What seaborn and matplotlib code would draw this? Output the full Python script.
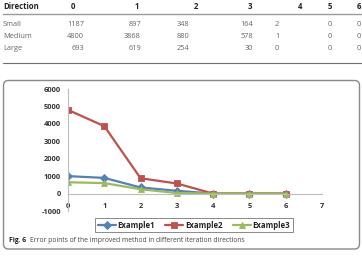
import matplotlib
matplotlib.use("Agg")
import matplotlib.pyplot as plt
from matplotlib.lines import Line2D
from matplotlib.patches import FancyBboxPatch
from matplotlib.transforms import IdentityTransform
import pandas as pd
import seaborn as sns

# ---------------- data ----------------
table_header = ["Direction", "0", "1", "2", "3", "4", "5", "6"]
table_rows = ["Small", "Medium", "Large"]
small = [1187, 897, 348, 164, 2, 0, 0]
medium = [4800, 3868, 880, 578, 1, 0, 0]
large = [693, 619, 254, 30, 0, 0, 0]

directions = [0, 1, 2, 3, 4, 5, 6]
example1 = [1000, 900, 350, 160, 0, 0, 0]
example2 = [4800, 3868, 880, 578, 0, 0, 0]
example3 = [650, 600, 250, 30, 0, 0, 0]
series_names = ["Example1", "Example2", "Example3"]
x_ticks = [0, 1, 2, 3, 4, 5, 6, 7]
y_ticks = [-1000, 0, 1000, 2000, 3000, 4000, 5000, 6000]
caption_bold = "Fig. 6"
caption_text = "Error points of the improved method in different iteration directions"

# ---------------- style ----------------
sns.set_theme(style="white")
plt.rcParams["font.family"] = ["Open Sans", "DejaVu Sans"]

W, H = 362, 258
fig = plt.figure(figsize=(W / 100, H / 100), dpi=100)
fig.patch.set_facecolor("white")

def fx(px):
    return px / W

def fy(py):
    return 1 - py / H

# ---------------- table ----------------
header_x = [3, 73, 137, 196, 250, 300, 330, 358.5]
header_ha = ["left"] + ["center"] * 7
value_x = [84, 141, 177, 253, 277, 330, 358.5]
value_ha = ["right", "right", "left", "right", "center", "center", "center"]
row_y = [25, 37, 48.5]

for x, ha, txt in zip(header_x, header_ha, table_header):
    fig.text(fx(x), fy(6.5), txt, ha=ha, va="center", fontsize=5.6,
             fontweight="bold", color="#222222")
fig.add_artist(Line2D([fx(3), fx(362)], [fy(13.5), fy(13.5)], color="#9a9a9a",
                      lw=1.0, transform=fig.transFigure))
for ry, name, vals in zip(row_y, table_rows, [small, medium, large]):
    fig.text(fx(3), fy(ry), name, ha="left", va="center", fontsize=5.3, color="#666666")
    for x, ha, v in zip(value_x, value_ha, vals):
        fig.text(fx(x), fy(ry), str(v), ha=ha, va="center", fontsize=5.3, color="#666666")
fig.add_artist(Line2D([fx(3), fx(362)], [fy(63), fy(63)], color="#707070",
                      lw=0.8, transform=fig.transFigure))

# ---------------- frame ----------------
frame = FancyBboxPatch((3.5, H - 249), 356, 168.5,
                       boxstyle="round,pad=0,rounding_size=5",
                       transform=IdentityTransform(), facecolor="none",
                       edgecolor="#8a8a8a", lw=1.0)
fig.add_artist(frame)

# ---------------- chart ----------------
ax = fig.add_axes([fx(68), fy(211), (322 - 68) / W, (211 - 89) / H])
df = pd.DataFrame({
    "Direction": directions * 3,
    "Error": example1 + example2 + example3,
    "Series": [s for s in series_names for _ in directions],
})
palette = {"Example1": "#4F81BD", "Example2": "#C0504D", "Example3": "#9BBB59"}
markers = {"Example1": "D", "Example2": "s", "Example3": "^"}
sns.lineplot(data=df, x="Direction", y="Error", hue="Series", style="Series",
             markers=markers, dashes=False, palette=palette, lw=1.6,
             markersize=4.2, ax=ax, legend=True)
for ln in ax.lines:
    ln.set_markeredgecolor(ln.get_color())
    ln.set_markeredgewidth(0.6)

ax.set_xlim(0, 7)
ax.set_ylim(-1000, 6000)
ax.set_xticks(x_ticks)
ax.set_xticklabels([str(t) for t in x_ticks])
ax.set_yticks(y_ticks)
ax.set_yticklabels([str(t) for t in y_ticks])
ax.set_xlabel("")
ax.set_ylabel("")
ax.patch.set_alpha(0)
for s in ["top", "right"]:
    ax.spines[s].set_visible(False)
ax.spines["bottom"].set_position(("data", 0))
ax.spines["left"].set_color("#bdbdbd")
ax.spines["bottom"].set_color("#bdbdbd")
ax.spines["left"].set_linewidth(0.8)
ax.spines["bottom"].set_linewidth(0.8)
ax.tick_params(axis="x", length=0, pad=7, labelsize=5.4, colors="#333333")
ax.tick_params(axis="y", length=0, pad=5, labelsize=5.4, colors="#333333")
for lab in ax.get_xticklabels() + ax.get_yticklabels():
    lab.set_fontweight("bold")

handles, labels = ax.get_legend_handles_labels()
ax.get_legend().remove()
leg = fig.legend(handles, labels, loc="center", bbox_to_anchor=(fx(194), fy(225)),
                 bbox_transform=fig.transFigure, ncol=3, frameon=True, fancybox=False,
                 fontsize=5.6, handlelength=2.3, handletextpad=0.25, columnspacing=1.3,
                 borderpad=0.35, edgecolor="#8a8a8a", framealpha=1)
leg.get_frame().set_linewidth(0.7)
for t in leg.get_texts():
    t.set_fontweight("bold")
    t.set_color("#222222")

# ---------------- caption ----------------
fig.text(fx(9), fy(240), caption_bold, ha="left", va="center", fontsize=4.9,
         fontweight="bold", color="#222222")
fig.text(fx(29.5), fy(240), caption_text, ha="left", va="center", fontsize=4.9,
         color="#444444")

fig.savefig("out.png", dpi=100)
